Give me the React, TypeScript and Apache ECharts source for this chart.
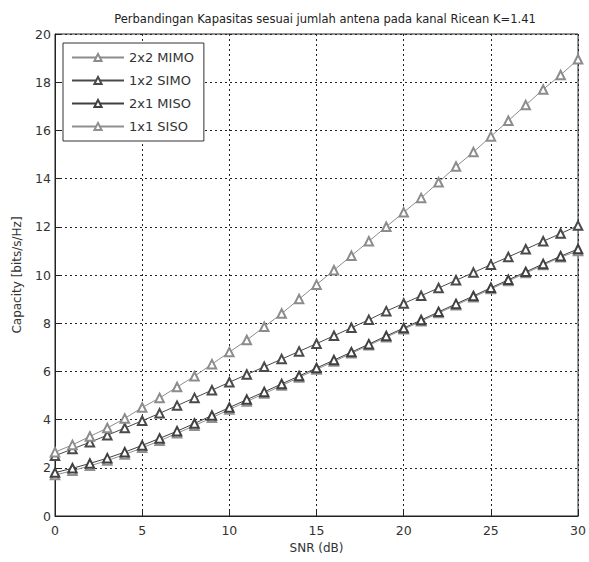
import React, { useEffect, useRef } from "react";
import * as echarts from "echarts";

const snr = [0,1,2,3,4,5,6,7,8,9,10,11,12,13,14,15,16,17,18,19,20,21,22,23,24,25,26,27,28,29,30];
const mimo22 = [2.65,2.95,3.3,3.65,4.05,4.5,4.9,5.35,5.8,6.3,6.8,7.3,7.85,8.4,9.0,9.6,10.2,10.8,11.4,12.0,12.6,13.2,13.85,14.5,15.1,15.75,16.4,17.05,17.7,18.3,18.95];
const simo12 = [2.5,2.78,3.06,3.35,3.65,3.95,4.26,4.58,4.9,5.22,5.55,5.87,6.19,6.51,6.83,7.15,7.48,7.81,8.14,8.5,8.82,9.14,9.46,9.78,10.1,10.43,10.75,11.07,11.4,11.72,12.05];
const miso21 = [1.8,1.98,2.18,2.4,2.65,2.93,3.22,3.52,3.84,4.17,4.5,4.83,5.15,5.48,5.81,6.14,6.47,6.8,7.13,7.47,7.8,8.13,8.47,8.8,9.13,9.47,9.8,10.13,10.46,10.78,11.08];
const siso11 = [1.7,1.88,2.08,2.3,2.55,2.83,3.12,3.43,3.75,4.08,4.42,4.75,5.08,5.41,5.75,6.08,6.41,6.75,7.08,7.42,7.75,8.08,8.42,8.75,9.08,9.42,9.75,10.08,10.41,10.74,11.0];
const seriesNames = ["2x2 MIMO", "1x2 SIMO", "2x1 MISO", "1x1 SISO"];
const seriesColors = ["#8c8c8c", "#4a4a4a", "#404040", "#909090"];

export default function App() {
  const ref = useRef<HTMLDivElement>(null);
  useEffect(() => {
    if (!ref.current) return;
    const chart = echarts.init(ref.current, undefined, { renderer: "svg" });
    const all = [mimo22, simo12, miso21, siso11];
    const font = "DejaVu Sans";
    chart.setOption({
      animation: false,
      backgroundColor: "#ffffff",
      title: {
        text: "Perbandingan Kapasitas sesuai jumlah antena pada kanal Ricean K=1.41",
        left: 320,
        textAlign: "center",
        top: 8,
        textStyle: { fontSize: 11.5, fontWeight: "normal", color: "#222", fontFamily: font },
      },
      grid: {
        left: 55,
        right: 5,
        top: 34,
        bottom: 46,
        show: true,
        borderColor: "#222",
        borderWidth: 1,
        backgroundColor: "#fff",
      },
      legend: {
        orient: "vertical",
        left: 63,
        top: 43,
        data: seriesNames,
        itemWidth: 52,
        itemHeight: 9,
        itemGap: 10,
        padding: [8, 10, 8, 8],
        borderColor: "#333",
        borderWidth: 1,
        backgroundColor: "#fff",
        textStyle: { fontSize: 13, color: "#333", fontFamily: font },
      },
      xAxis: {
        type: "value",
        min: 0,
        max: 30,
        interval: 5,
        name: "SNR (dB)",
        nameLocation: "middle",
        nameGap: 22,
        nameTextStyle: { fontSize: 12, color: "#333", fontFamily: font },
        axisLine: { show: true, lineStyle: { color: "#222" } },
        axisTick: { show: true, inside: true, length: 5, lineStyle: { color: "#222" } },
        axisLabel: { fontSize: 12.5, color: "#333", fontFamily: font, margin: 8 },
        splitLine: { show: true, lineStyle: { color: "#222", type: [2, 3], width: 1 } },
      },
      yAxis: {
        type: "value",
        min: 0,
        max: 20,
        interval: 2,
        name: "Capacity [bits/s/Hz]",
        nameLocation: "middle",
        nameGap: 32,
        nameTextStyle: { fontSize: 12, color: "#333", fontFamily: font },
        axisLine: { show: true, lineStyle: { color: "#222" } },
        axisTick: { show: true, inside: true, length: 5, lineStyle: { color: "#222" } },
        axisLabel: { fontSize: 12.5, color: "#333", fontFamily: font, margin: 4 },
        splitLine: { show: true, lineStyle: { color: "#222", type: [2, 3], width: 1 } },
      },
      series: all.map((vals, i) => ({
        name: seriesNames[i],
        type: "line",
        data: snr.map((x, j) => [x, vals[j]]),
        symbol: "emptyTriangle",
        symbolSize: 8.5,
        showSymbol: true,
        z: 10 - i,
        lineStyle: { color: seriesColors[i], width: 1 },
        itemStyle: { color: seriesColors[i], borderColor: seriesColors[i], borderWidth: 1 },
      })),
    });
    return () => chart.dispose();
  }, []);
  return (
    <div
      ref={ref}
      style={{ position: "fixed", left: 0, top: 0, width: 589, height: 562 }}
    />
  );
}
